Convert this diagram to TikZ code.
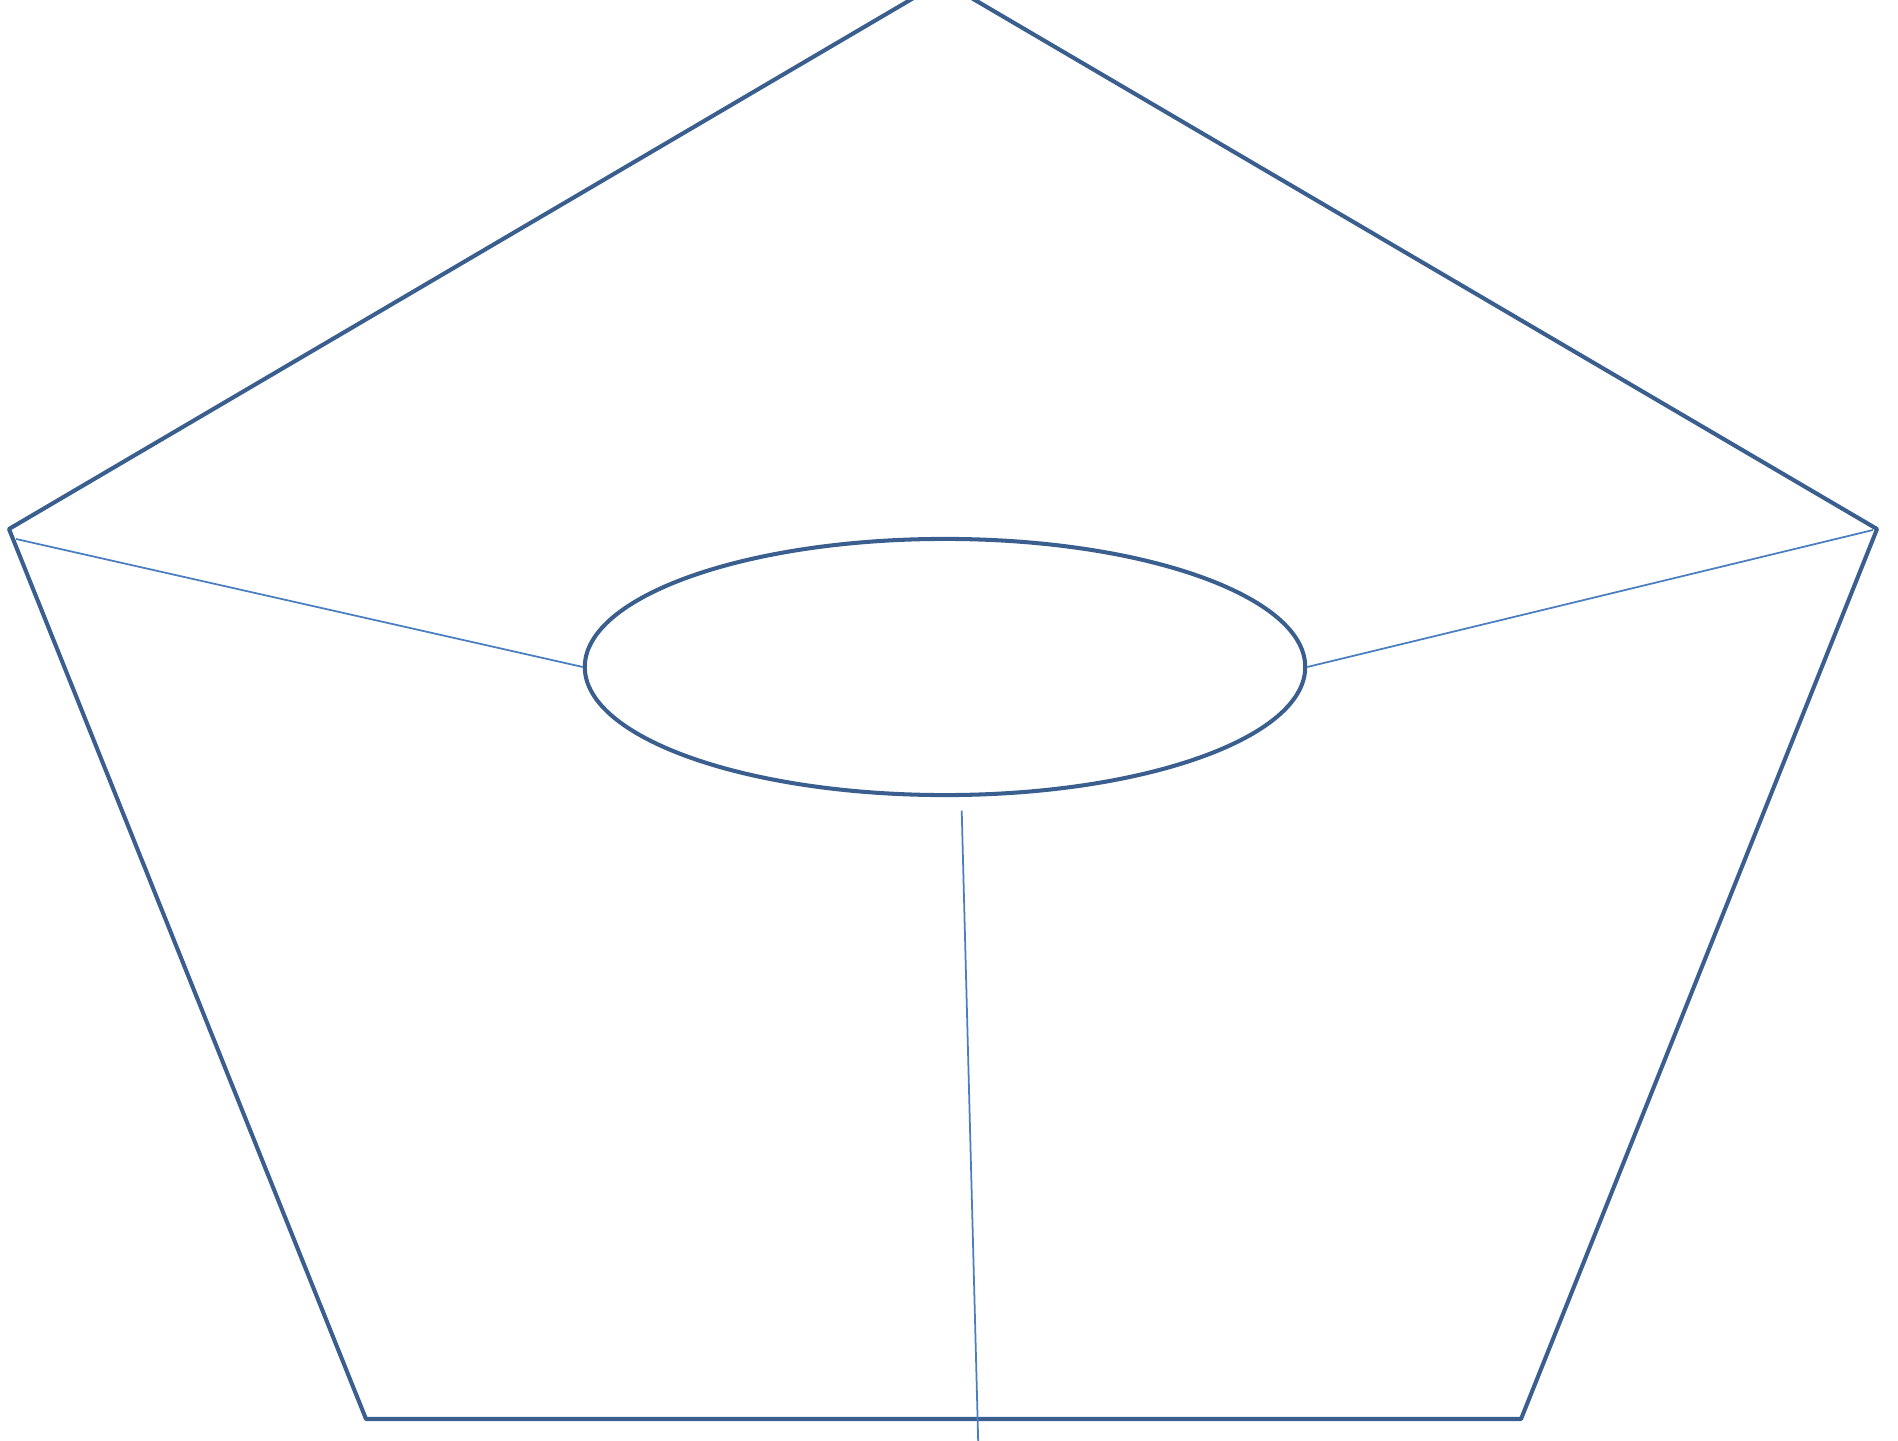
\documentclass[tikz,border=0pt]{standalone}
\usetikzlibrary{shapes.geometric}
\definecolor{thickblue}{HTML}{3A5F8F}
\definecolor{thinblue}{HTML}{4A7EC0}
\tikzset{
  outline/.style={draw=thickblue, line width=1.15pt, line join=round},
  link/.style={draw=thinblue, line width=0.5pt},
}
\begin{document}
\begin{tikzpicture}[x=0.01cm,y=-0.01cm]
\useasboundingbox (0,0) rectangle (1898,1440);
\clip (0,0) rectangle (1898,1440);
\coordinate (apex) at (942.5,-19);
\coordinate (vl) at (9,529);
\coordinate (vr) at (1877,529);
\coordinate (bl) at (366,1419);
\coordinate (br) at (1521,1419);
\draw[outline] (apex) -- (vr) -- (br) -- (bl) -- (vl) -- cycle;
\node[ellipse, outline, fill=none, minimum width=720\pgflinewidth, inner sep=0pt,
      minimum width=7.2cm, minimum height=2.56cm] (hub) at (945,667) {};
\coordinate (la) at (16,539);
\coordinate (ra) at (1873,530);
\coordinate (vt) at (961.7,810.7);
\coordinate (vb) at (978.4,1450);
\draw[link] (la) -- (hub.west);
\draw[link] (ra) -- (hub.east);
\draw[link] (vt) -- (vb);
\end{tikzpicture}
\end{document}
